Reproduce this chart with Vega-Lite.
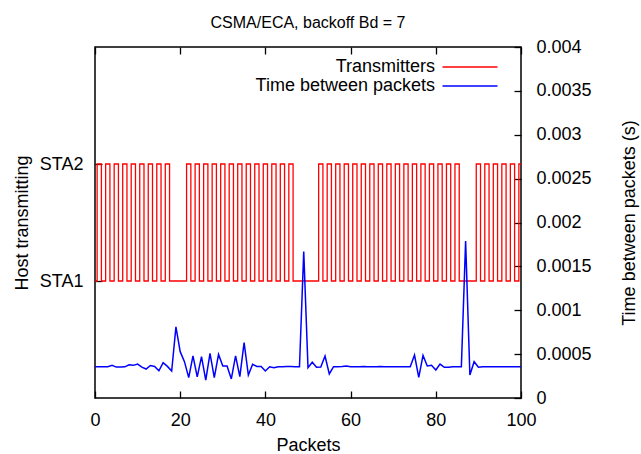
{
  "$schema": "https://vega.github.io/schema/vega-lite/v6.json",
  "width": 426,
  "height": 351,
  "autosize": {"type": "none"},
  "padding": {"left": 95, "top": 47, "right": 120, "bottom": 56},
  "background": "white",
  "title": {"text": "CSMA/ECA, backoff Bd = 7", "fontSize": 16, "fontWeight": "normal", "font": "Liberation Sans", "offset": 7, "color": "black"},
  "config": {
    "view": {"stroke": "black", "strokeWidth": 1.5},
    "axis": {"domain": false, "grid": false, "ticks": true, "tickColor": "black", "tickSize": 7, "offset": -7, "tickWidth": 1.3, "zindex": 1, "labelFlush": false, "labelColor": "black", "labelFont": "Liberation Sans", "labelFontSize": 18, "titleFont": "Liberation Sans", "titleFontSize": 18, "titleFontWeight": "normal", "titleColor": "black"}
  },
  "data": {"values": [
    {"packet": 0, "host": 1, "gap": 0.000355},
    {"packet": 1, "host": 2, "gap": 0.000355},
    {"packet": 2, "host": 1, "gap": 0.000355},
    {"packet": 3, "host": 2, "gap": 0.000357},
    {"packet": 4, "host": 1, "gap": 0.000372},
    {"packet": 5, "host": 2, "gap": 0.000352},
    {"packet": 6, "host": 1, "gap": 0.000352},
    {"packet": 7, "host": 2, "gap": 0.000355},
    {"packet": 8, "host": 1, "gap": 0.000378},
    {"packet": 9, "host": 2, "gap": 0.000372},
    {"packet": 10, "host": 1, "gap": 0.000387},
    {"packet": 11, "host": 2, "gap": 0.000352},
    {"packet": 12, "host": 1, "gap": 0.000330},
    {"packet": 13, "host": 2, "gap": 0.000370},
    {"packet": 14, "host": 1, "gap": 0.000360},
    {"packet": 15, "host": 2, "gap": 0.000310},
    {"packet": 16, "host": 1, "gap": 0.000402},
    {"packet": 17, "host": 2, "gap": 0.000360},
    {"packet": 18, "host": 1, "gap": 0.000307},
    {"packet": 19, "host": 1, "gap": 0.000810},
    {"packet": 20, "host": 1, "gap": 0.000528},
    {"packet": 21, "host": 1, "gap": 0.000414},
    {"packet": 22, "host": 2, "gap": 0.000232},
    {"packet": 23, "host": 1, "gap": 0.000479},
    {"packet": 24, "host": 2, "gap": 0.000240},
    {"packet": 25, "host": 1, "gap": 0.000471},
    {"packet": 26, "host": 2, "gap": 0.000205},
    {"packet": 27, "host": 1, "gap": 0.000509},
    {"packet": 28, "host": 2, "gap": 0.000232},
    {"packet": 29, "host": 1, "gap": 0.000497},
    {"packet": 30, "host": 2, "gap": 0.000365},
    {"packet": 31, "host": 1, "gap": 0.000365},
    {"packet": 32, "host": 2, "gap": 0.000217},
    {"packet": 33, "host": 1, "gap": 0.000479},
    {"packet": 34, "host": 2, "gap": 0.000243},
    {"packet": 35, "host": 1, "gap": 0.000630},
    {"packet": 36, "host": 2, "gap": 0.000262},
    {"packet": 37, "host": 1, "gap": 0.000384},
    {"packet": 38, "host": 2, "gap": 0.000360},
    {"packet": 39, "host": 1, "gap": 0.000360},
    {"packet": 40, "host": 2, "gap": 0.000308},
    {"packet": 41, "host": 1, "gap": 0.000356},
    {"packet": 42, "host": 2, "gap": 0.000346},
    {"packet": 43, "host": 1, "gap": 0.000357},
    {"packet": 44, "host": 2, "gap": 0.000357},
    {"packet": 45, "host": 1, "gap": 0.000358},
    {"packet": 46, "host": 2, "gap": 0.000358},
    {"packet": 47, "host": 1, "gap": 0.000357},
    {"packet": 48, "host": 1, "gap": 0.000357},
    {"packet": 49, "host": 1, "gap": 0.001670},
    {"packet": 50, "host": 1, "gap": 0.000346},
    {"packet": 51, "host": 1, "gap": 0.000407},
    {"packet": 52, "host": 1, "gap": 0.000350},
    {"packet": 53, "host": 2, "gap": 0.000352},
    {"packet": 54, "host": 1, "gap": 0.000479},
    {"packet": 55, "host": 2, "gap": 0.000274},
    {"packet": 56, "host": 1, "gap": 0.000357},
    {"packet": 57, "host": 2, "gap": 0.000357},
    {"packet": 58, "host": 1, "gap": 0.000358},
    {"packet": 59, "host": 2, "gap": 0.000365},
    {"packet": 60, "host": 1, "gap": 0.000357},
    {"packet": 61, "host": 2, "gap": 0.000357},
    {"packet": 62, "host": 1, "gap": 0.000357},
    {"packet": 63, "host": 2, "gap": 0.000358},
    {"packet": 64, "host": 1, "gap": 0.000357},
    {"packet": 65, "host": 2, "gap": 0.000357},
    {"packet": 66, "host": 1, "gap": 0.000357},
    {"packet": 67, "host": 2, "gap": 0.000358},
    {"packet": 68, "host": 1, "gap": 0.000357},
    {"packet": 69, "host": 2, "gap": 0.000357},
    {"packet": 70, "host": 1, "gap": 0.000357},
    {"packet": 71, "host": 2, "gap": 0.000357},
    {"packet": 72, "host": 1, "gap": 0.000357},
    {"packet": 73, "host": 2, "gap": 0.000357},
    {"packet": 74, "host": 1, "gap": 0.000357},
    {"packet": 75, "host": 2, "gap": 0.000490},
    {"packet": 76, "host": 1, "gap": 0.000236},
    {"packet": 77, "host": 2, "gap": 0.000486},
    {"packet": 78, "host": 1, "gap": 0.000365},
    {"packet": 79, "host": 2, "gap": 0.000372},
    {"packet": 80, "host": 1, "gap": 0.000319},
    {"packet": 81, "host": 2, "gap": 0.000387},
    {"packet": 82, "host": 1, "gap": 0.000350},
    {"packet": 83, "host": 2, "gap": 0.000350},
    {"packet": 84, "host": 1, "gap": 0.000357},
    {"packet": 85, "host": 2, "gap": 0.000357},
    {"packet": 86, "host": 1, "gap": 0.000357},
    {"packet": 87, "host": 1, "gap": 0.001790},
    {"packet": 88, "host": 1, "gap": 0.000262},
    {"packet": 89, "host": 1, "gap": 0.000414},
    {"packet": 90, "host": 2, "gap": 0.000350},
    {"packet": 91, "host": 1, "gap": 0.000357},
    {"packet": 92, "host": 2, "gap": 0.000357},
    {"packet": 93, "host": 1, "gap": 0.000357},
    {"packet": 94, "host": 2, "gap": 0.000357},
    {"packet": 95, "host": 1, "gap": 0.000357},
    {"packet": 96, "host": 2, "gap": 0.000357},
    {"packet": 97, "host": 1, "gap": 0.000357},
    {"packet": 98, "host": 2, "gap": 0.000357},
    {"packet": 99, "host": 1, "gap": 0.000357},
    {"packet": 100, "host": 2, "gap": 0.000357}
  ]},
  "layer": [
    {
      "mark": {"type": "line", "interpolate": "step", "strokeWidth": 1.3},
      "encoding": {
        "x": {"field": "packet", "type": "quantitative", "scale": {"domain": [0, 100], "nice": false},
              "axis": {"orient": "bottom", "values": [0, 20, 40, 60, 80, 100], "title": "Packets", "labelPadding": 13, "titlePadding": 7}},
        "y": {"field": "host", "type": "quantitative", "scale": {"domain": [0, 3], "nice": false},
              "axis": {"orient": "left", "values": [1, 2], "labelExpr": "datum.value == 1 ? 'STA1' : 'STA2'", "title": "Host transmitting", "labelPadding": 12, "titlePadding": 8}},
        "color": {"datum": "Transmitters", "type": "nominal",
                  "scale": {"domain": ["Transmitters", "Time between packets"], "range": ["#ff0000", "#0000ff"]},
                  "legend": {"orient": "none", "legendX": 366, "legendY": 11, "title": null, "symbolType": "M-4,0H4", "symbolSize": 189, "symbolStrokeWidth": 1.5, "labelAlign": "right", "labelOffset": -44, "labelLimit": 400, "labelFontSize": 18, "labelFont": "Liberation Sans", "labelColor": "black", "rowPadding": 1}}
      }
    },
    {
      "mark": {"type": "line", "strokeWidth": 1.5},
      "encoding": {
        "x": {"field": "packet", "type": "quantitative",
              "axis": {"orient": "top", "values": [0, 20, 40, 60, 80, 100], "labels": false, "title": null}},
        "y": {"field": "gap", "type": "quantitative", "scale": {"domain": [0, 0.004], "nice": false},
              "axis": {"orient": "right", "values": [0, 0.0005, 0.001, 0.0015, 0.002, 0.0025, 0.003, 0.0035, 0.004], "format": "~g", "title": "Time between packets (s)", "titleAngle": 270, "labelPadding": 15, "titlePadding": 47}},
        "color": {"datum": "Time between packets", "type": "nominal"}
      }
    }
  ],
  "resolve": {"scale": {"y": "independent"}, "axis": {"x": "independent"}}
}
